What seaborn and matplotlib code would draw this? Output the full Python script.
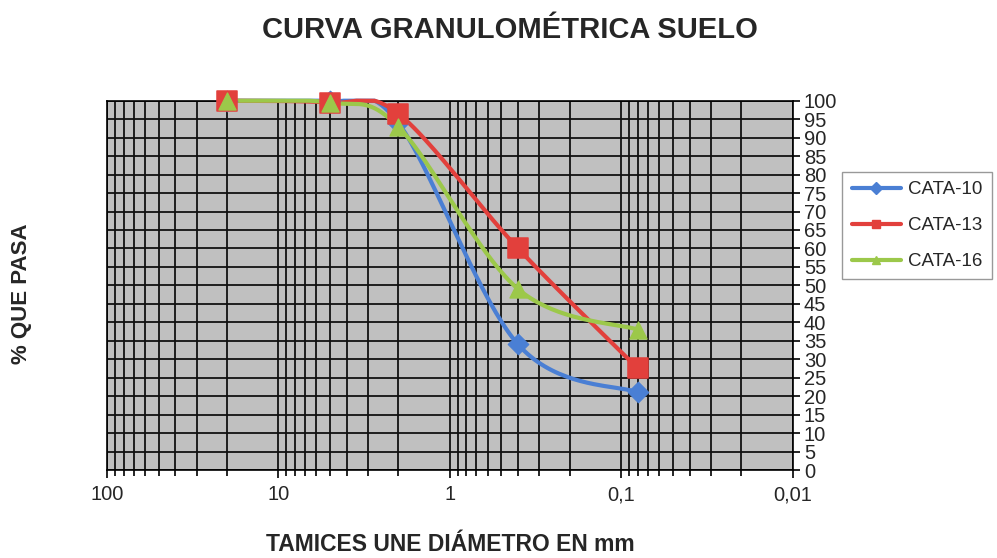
import numpy as np
import pandas as pd
import seaborn as sns
import matplotlib.pyplot as plt
from matplotlib.lines import Line2D
from matplotlib.ticker import LogLocator, NullFormatter

# Datos (tamices UNE, mm)
tamices = [20, 5, 2, 0.4, 0.08]
cata_10 = [100, 100, 94, 34, 21]
cata_13 = [100, 99.5, 96.5, 60, 27.5]
cata_16 = [100, 99.5, 93, 49, 38]
series = ['CATA-10', 'CATA-13', 'CATA-16']
x_ticks = [100, 10, 1, 0.1, 0.01]
x_labels = ['100', '10', '1', '0,1', '0,01']
y_ticks = list(range(0, 101, 5))

colores = {'CATA-10': '#4a7fd4', 'CATA-13': '#e2403c', 'CATA-16': '#9cc84a'}
marcas = {'CATA-10': 'D', 'CATA-13': 's', 'CATA-16': '^'}
tamanos = {'CATA-10': 110, 'CATA-13': 190, 'CATA-16': 150}

df = pd.DataFrame({'tamiz': tamices * 3,
                   'pasa': cata_10 + cata_13 + cata_16,
                   'serie': np.repeat(series, len(tamices))})


def suavizar(xs, ys, n=40):
    # curva suavizada tipo Excel (Catmull-Rom) en escala log
    p = np.column_stack([np.log10(xs), ys])
    p = np.vstack([p[0], p, p[-1]])
    t = np.linspace(0, 1, n)[:, None]
    trozos = []
    for i in range(1, len(p) - 2):
        p0, p1, p2, p3 = p[i - 1], p[i], p[i + 1], p[i + 2]
        trozos.append(0.5 * (2 * p1 + (-p0 + p2) * t
                             + (2 * p0 - 5 * p1 + 4 * p2 - p3) * t ** 2
                             + (-p0 + 3 * p1 - 3 * p2 + p3) * t ** 3))
    c = np.vstack(trozos)
    # no pasar del 100 %
    return 10 ** c[:, 0], np.minimum(c[:, 1], 100)


sns.set_style("ticks")
plt.rcParams['font.family'] = ['Liberation Sans', 'DejaVu Sans']

fig = plt.figure(figsize=(9.97, 5.58), dpi=100)
ax = fig.add_axes([0.1073, 0.1577, 0.6878, 0.6618])
ax.set_facecolor('#c0c0c0')

for s in series:
    d = df[df['serie'] == s]
    sx, sy = suavizar(d['tamiz'].values, d['pasa'].values)
    ax.plot(sx, sy, color=colores[s], lw=3, zorder=3, clip_on=False)
    sns.scatterplot(data=d, x='tamiz', y='pasa', marker=marcas[s], s=tamanos[s],
                    color=colores[s], edgecolor=colores[s], ax=ax, zorder=4,
                    clip_on=False, legend=False)

ax.set_xscale('log')
ax.set_xlim(100, 0.01)
ax.set_ylim(0, 100)
ax.xaxis.set_minor_locator(LogLocator(base=10, subs=np.arange(2, 10)))
ax.xaxis.set_minor_formatter(NullFormatter())
ax.set_xticks(x_ticks)
ax.set_xticklabels(x_labels, fontsize=14.5)
ax.set_yticks(y_ticks)
ax.set_yticklabels([str(v) for v in y_ticks], fontsize=14.5)
ax.yaxis.tick_right()
ax.tick_params(axis='x', which='major', length=6, width=1.2, color='black', pad=5)
ax.tick_params(axis='x', which='minor', length=4, width=1.2, color='black')
ax.tick_params(axis='y', length=5, width=1.2, color='black', pad=3)
ax.grid(True, which='both', axis='x', color='#111111', lw=1.3)
ax.grid(True, which='major', axis='y', color='#111111', lw=1.3)
ax.set_axisbelow(True)
for sp in ax.spines.values():
    sp.set_color('black')
    sp.set_linewidth(1.2)
ax.set_xlabel('')
ax.set_ylabel('')

fig.text(0.511, 1 - 30 / 558, 'CURVA GRANULOMÉTRICA SUELO', ha='center', va='center',
         fontsize=21, fontweight='bold')
fig.text(0.452, 0.025, 'TAMICES UNE DIÁMETRO EN mm', ha='center', va='center',
         fontsize=16.5, fontweight='bold')
fig.text(0.022, 0.473, '% QUE PASA', ha='center', va='center', rotation=90,
         fontsize=16, fontweight='bold')

handles = [Line2D([], [], color=colores[s], lw=3, marker=marcas[s], markersize=6)
           for s in series]
leg = fig.legend(handles, series, loc='upper left', bbox_to_anchor=(0.845, 0.692),
                 borderaxespad=0, fontsize=13.5, frameon=True, fancybox=False,
                 handlelength=2.6, labelspacing=1.0, borderpad=0.5, handletextpad=0.4)
leg.get_frame().set_edgecolor('#808080')
leg.get_frame().set_linewidth(1)

fig.savefig('out.png', dpi=100)
